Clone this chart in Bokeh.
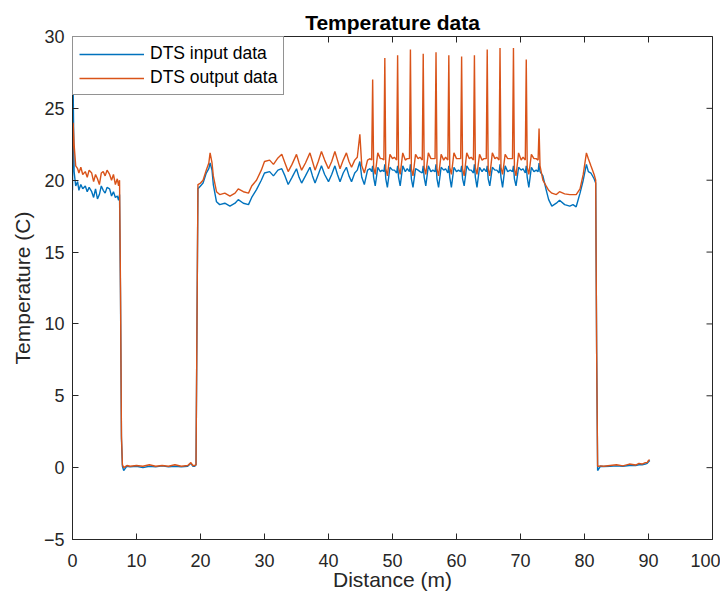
import math
from bokeh.plotting import figure
from bokeh.models import FixedTicker, Range1d
from bokeh.embed import file_html
from bokeh.resources import INLINE

# ---------------- data ----------------
distance_m = [
    # 0 - 8 m
    0.0, 0.1, 0.25, 0.5, 0.8, 1.0, 1.3, 1.6, 2.0, 2.3, 2.6, 3.0, 3.3, 3.6, 3.9, 4.2,
    4.5, 4.8, 5.1, 5.4, 5.8, 6.1, 6.4, 6.7, 7.0, 7.2, 7.35, 7.5, 7.65, 7.8, 8.0,
    # cold section 8 - 19.3 m
    8.5, 9.0, 10.0, 11.0, 12.0, 13.0, 14.0, 15.0, 16.0, 17.0, 18.0, 18.5, 18.8, 19.1, 19.3,
    # rising edge
    19.45, 19.6,
    # 20 - 32 m
    20.0, 20.4, 20.9, 21.3, 21.5, 21.8, 22.0, 22.5, 23.0, 23.8, 24.6, 25.4, 25.9, 26.7,
    27.5, 28.0, 28.75, 29.5, 30.0, 30.8, 31.4, 32.1,
    # 32 - 46 m
    32.7, 33.2, 33.7, 34.3, 35.0, 35.4, 35.8, 36.4, 37.1, 37.5, 37.9, 38.4, 38.9, 39.4,
    40.0, 40.5, 41.0, 41.4, 41.8, 42.3, 42.8, 43.2, 43.6, 44.1, 44.5, 44.9, 45.2, 45.6,
    46.1, 46.5,
    # spike section
    46.75, 46.9, 47.05, 47.3, 47.7, 48.1, 48.4,
    48.65, 48.8, 48.95, 49.2, 49.6, 50.0, 50.3,
    50.65, 50.8, 50.95, 51.2, 51.6, 52.0, 52.3,
    52.65, 52.8, 52.95, 53.2, 53.6, 54.0, 54.3,
    54.65, 54.8, 54.95, 55.2, 55.6, 56.0, 56.3,
    56.65, 56.8, 56.95, 57.2, 57.6, 58.0, 58.3,
    58.65, 58.8, 58.95, 59.2, 59.6, 60.0, 60.3,
    60.65, 60.8, 60.95, 61.2, 61.6, 62.0, 62.3,
    62.65, 62.8, 62.95, 63.2, 63.6, 64.0, 64.3,
    64.65, 64.8, 64.95, 65.2, 65.6, 66.0, 66.3,
    66.65, 66.8, 66.95, 67.2, 67.6, 68.0, 68.4,
    68.75, 68.9, 69.05, 69.3, 69.7, 70.1, 70.4,
    70.75, 70.9, 71.05, 71.3, 71.7, 72.1, 72.45,
    72.75, 72.9, 73.05,
    # 73 - 82 m
    73.5, 74.0, 74.4, 74.9, 75.6, 76.1, 76.9, 77.7, 78.2, 78.7, 79.3, 79.8, 80.3, 80.6,
    81.0, 81.5, 81.75, 81.9, 82.05,
    # cold section 82 - 90 m
    82.2, 82.5, 83.0, 84.0, 85.0, 86.0, 87.0, 88.0, 88.5, 89.0, 89.5, 89.8, 90.0, 90.2,
]

dts_input_c = [
    19.3, 26.5, 20.6, 19.6, 19.9, 19.3, 19.7, 19.4, 19.6, 19.2, 19.5, 19.2, 18.8, 19.4, 18.7, 19.0,
    19.6, 19.3, 19.1, 19.5, 19.4, 18.9, 19.2, 18.8, 18.9, 18.6, 19.0, 12.0, 2.0, 0.1, -0.2,
    0.1, 0.05, 0.1, 0.0, 0.1, 0.05, 0.12, 0.05, 0.1, 0.05, 0.1, 0.3, 0.1, 0.1, 0.2,
    10.0, 19.4,
    19.6, 19.8, 20.5, 20.8, 21.2, 20.7, 19.7, 18.5, 18.3, 18.4, 18.2, 18.4, 18.65, 18.4,
    18.3, 18.8, 19.35, 20.0, 20.5, 20.6, 20.3, 20.7,
    20.8, 20.3, 19.7, 20.2, 20.8, 20.2, 19.8, 20.3, 20.9, 20.3, 19.8, 20.4, 21.0, 20.4,
    19.9, 20.4, 21.0, 20.4, 19.9, 20.5, 20.9, 20.3, 19.9, 20.5, 20.7, 21.3, 20.2, 19.7,
    20.7, 20.8,
    20.6, 21.0, 20.2, 19.6, 20.9, 20.6, 20.7,
    20.6, 21.1, 20.1, 19.5, 20.9, 20.7, 20.7,
    20.5, 21.0, 20.2, 19.6, 21.0, 20.6, 20.8,
    20.6, 21.1, 20.1, 19.5, 20.8, 20.7, 20.6,
    20.5, 21.0, 20.2, 19.6, 21.0, 20.6, 20.7,
    20.6, 21.1, 20.1, 19.5, 20.9, 20.7, 20.8,
    20.5, 21.0, 20.2, 19.5, 20.9, 20.6, 20.7,
    20.6, 21.0, 20.1, 19.6, 21.0, 20.7, 20.7,
    20.5, 21.1, 20.2, 19.5, 20.9, 20.6, 20.8,
    20.6, 21.0, 20.1, 19.6, 20.9, 20.7, 20.7,
    20.5, 21.1, 20.2, 19.5, 21.0, 20.6, 20.7,
    20.6, 21.0, 20.1, 19.6, 20.9, 20.7, 20.8,
    20.5, 21.0, 20.2, 19.5, 20.9, 20.6, 20.7,
    20.6, 21.2, 20.6,
    20.3, 19.35, 18.65, 18.2, 18.4, 18.6, 18.3, 18.2, 18.3, 18.15, 19.1, 20.0, 21.1, 20.6,
    20.5, 20.1, 19.8, 8.0, -0.2,
    -0.1, 0.1, 0.08, 0.1, 0.12, 0.1, 0.15, 0.15, 0.2, 0.2, 0.25, 0.3, 0.4, 0.5,
]

dts_output_c = [
    21.0, 24.0, 22.5, 21.0, 20.8, 20.5, 20.9, 20.4, 20.6, 20.2, 20.7, 20.5, 19.9, 20.4, 20.1, 19.7,
    20.5, 20.6, 20.3, 20.7, 20.4, 20.0, 20.4, 19.7, 20.1, 19.6, 20.0, 12.5, 2.2, 0.2, 0.0,
    0.15, 0.1, 0.15, 0.1, 0.2, 0.1, 0.15, 0.1, 0.2, 0.1, 0.15, 0.35, 0.15, 0.15, 0.2,
    10.0, 19.7,
    19.8, 20.0, 20.7, 21.2, 21.9, 21.2, 20.3, 19.2, 19.0, 19.1, 18.9, 19.1, 19.4, 19.2,
    19.1, 19.6, 20.0, 20.7, 21.3, 21.4, 21.1, 21.55,
    21.8, 21.2, 20.6, 21.1, 21.8, 21.2, 20.7, 21.2, 21.9, 21.3, 20.7, 21.3, 22.0, 21.4,
    20.8, 21.3, 22.0, 21.4, 20.8, 21.4, 21.9, 21.3, 20.9, 21.4, 21.6, 23.2, 21.0, 20.5,
    21.4, 21.5,
    21.4, 27.0, 20.9, 20.4, 21.9, 21.5, 21.5,
    21.4, 28.5, 20.8, 20.3, 21.8, 21.5, 21.6,
    21.4, 28.7, 20.9, 20.4, 21.9, 21.4, 21.5,
    21.5, 29.1, 20.8, 20.3, 21.8, 21.5, 21.6,
    21.4, 28.8, 20.9, 20.4, 21.9, 21.5, 21.5,
    21.5, 28.9, 20.8, 20.3, 21.8, 21.4, 21.6,
    21.4, 28.7, 20.9, 20.4, 21.9, 21.5, 21.5,
    21.5, 28.6, 20.8, 20.3, 21.9, 21.5, 21.6,
    21.4, 28.7, 20.9, 20.4, 21.8, 21.4, 21.5,
    21.5, 29.1, 20.8, 20.3, 21.9, 21.5, 21.6,
    21.4, 29.2, 20.9, 20.4, 21.8, 21.5, 21.5,
    21.5, 29.2, 20.8, 20.3, 21.9, 21.4, 21.6,
    21.4, 28.4, 20.9, 20.4, 21.8, 21.5, 21.5,
    21.4, 23.6, 21.0,
    20.0, 19.6, 19.3, 19.1, 19.0, 19.2, 19.05, 19.0, 19.0, 19.0, 19.4, 20.4, 21.9, 21.5,
    21.0, 20.4, 20.0, 8.0, 0.1,
    0.1, 0.12, 0.1, 0.15, 0.2, 0.12, 0.25, 0.18, 0.3, 0.25, 0.35, 0.35, 0.5, 0.55,
]

x_ticks = [0, 10, 20, 30, 40, 50, 60, 70, 80, 90, 100]
y_ticks = [-5, 0, 5, 10, 15, 20, 25, 30]

# ---------------- figure ----------------
FONT = "Liberation Sans"
AX = "#262626"
X_MIN, X_MAX, Y_MIN, Y_MAX = 0, 100, -5, 30

p = figure(
    width=720, height=600,
    min_border_left=72, min_border_right=8, min_border_top=36, min_border_bottom=61,
    x_range=Range1d(X_MIN, X_MAX), y_range=Range1d(Y_MIN, Y_MAX),
    output_backend="svg", toolbar_location=None,
    title="Temperature data",
)
p.background_fill_color = "white"
p.border_fill_color = "white"
p.xgrid.visible = False
p.ygrid.visible = False
p.outline_line_color = AX
p.outline_line_width = 1

p.title.text_font = FONT
p.title.text_font_size = "21px"
p.title.text_font_style = "bold"
p.title.text_color = "black"
p.title.align = "center"
p.title.standoff = 5

def style_axis(ax, ticks):
    ax.ticker = FixedTicker(ticks=ticks)
    ax.major_tick_in = 6
    ax.major_tick_out = 0
    ax.minor_tick_line_color = None
    ax.axis_line_color = AX
    ax.major_tick_line_color = AX
    ax.major_label_text_font = FONT
    ax.major_label_text_font_size = "18px"
    ax.major_label_text_color = AX
    ax.axis_label_text_font = FONT
    ax.axis_label_text_font_size = "21px"
    ax.axis_label_text_font_style = "normal"
    ax.axis_label_text_color = AX

style_axis(p.xaxis[0], x_ticks)
style_axis(p.yaxis[0], y_ticks)
p.xaxis[0].axis_label = "Distance (m)"
p.yaxis[0].axis_label = "Temperature (C)"
p.xaxis[0].major_label_standoff = 14
p.xaxis[0].axis_label_standoff = -2
p.yaxis[0].major_label_standoff = 8
p.yaxis[0].axis_label_standoff = 7

# inward tick marks on the top and right edges of the box (MATLAB "box on")
p.scatter(x_ticks, [Y_MAX] * len(x_ticks), marker="dash", size=12,
          angle=math.pi / 2, line_color=AX, line_width=1)
p.scatter([X_MAX] * len(y_ticks), y_ticks, marker="dash", size=12,
          line_color=AX, line_width=1)

p.line(distance_m, dts_input_c, line_color="#0072BD", line_width=1.4,
       legend_label="DTS input data")
p.line(distance_m, dts_output_c, line_color="#D95319", line_width=1.4,
       legend_label="DTS output data")

lg = p.legend[0]
lg.location = "top_left"
lg.margin = 0
lg.padding = 6
lg.spacing = 3
lg.label_height = 20
lg.glyph_height = 20
lg.glyph_width = 65
lg.label_standoff = 6
lg.border_line_color = AX
lg.border_line_width = 1
lg.background_fill_color = "white"
lg.background_fill_alpha = 1.0
lg.label_text_font = FONT
lg.label_text_font_size = "17.5px"
lg.label_text_color = "black"

open("out.html", "w").write(file_html(p, INLINE))
